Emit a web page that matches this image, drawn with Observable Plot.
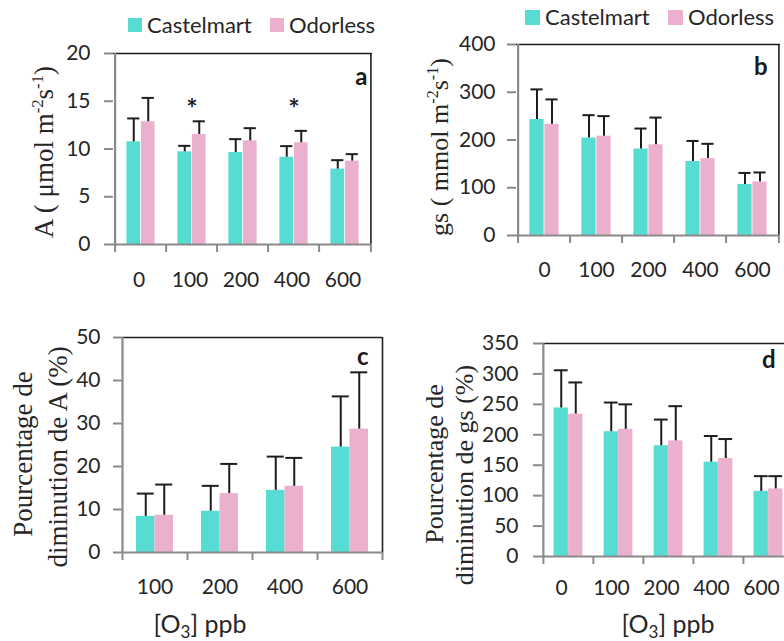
<!DOCTYPE html>
<html>
<head>
<meta charset="utf-8">
<script src="https://cdn.jsdelivr.net/npm/d3@7"></script>
<script src="https://cdn.jsdelivr.net/npm/@observablehq/plot@0.6"></script>
<style>
  html, body { margin: 0; padding: 0; background: #fff; }
  #fig { position: relative; width: 784px; height: 641px; overflow: hidden; font-family: Lato, sans-serif; color: #262626; }
  .panel { position: absolute; }
  .leg { position: absolute; display: flex; align-items: center; height: 28px; line-height: 28px; font-size: 22px; white-space: nowrap; }
  .sw { display: inline-block; margin-right: 5px; }
</style>
</head>
<body>
<div id="fig"></div>
<script>
// ---------- data ----------
const series = ["Castelmart", "Odorless"];
const colors = ["#56dcd3", "#ecb0cf"];

const concAll = ["0", "100", "200", "400", "600"];
const concDim = ["100", "200", "400", "600"];

// (a) net photosynthesis A (µmol m-2 s-1)
const aCast    = [10.75, 9.70, 9.63, 9.14, 7.90];
const aCastErr = [2.45, 0.63, 1.40, 1.16, 0.93];
const aOdor    = [12.85, 11.52, 10.85, 10.65, 8.73];
const aOdorErr = [2.50, 1.38, 1.33, 1.25, 0.73];
const aStarConc = ["100", "400"];
const aStarY = [14.8, 14.8];

// (b) stomatal conductance gs (mmol m-2 s-1)
const gsCast    = [243, 204, 181, 155, 107];
const gsCastErr = [63, 48, 43, 43, 24];
const gsOdor    = [233, 208, 190, 161, 112];
const gsOdorErr = [52, 42, 57, 31, 20];

// (c) % decrease of A
const cCast    = [8.4, 9.6, 14.45, 24.5];
const cCastErr = [5.3, 5.9, 7.85, 11.8];
const cOdor    = [8.65, 13.7, 15.4, 28.7];
const cOdorErr = [7.15, 6.9, 6.6, 13.2];

// (d) % decrease of gs
const dCast    = [244, 205, 182, 155, 107];
const dCastErr = [62, 48, 43, 43, 25];
const dOdor    = [234, 209, 190, 161, 111];
const dOdorErr = [52, 41, 57, 32, 21];

const yTicksA = [0, 5, 10, 15, 20];
const yTicksB = [0, 100, 200, 300, 400];
const yTicksC = [0, 10, 20, 30, 40, 50];
const yTicksD = [0, 50, 100, 150, 200, 250, 300, 350];

// ---------- helpers ----------
const GREY = "#8a8a8a";
const DARK = "#1e1e1e";
const fig = document.getElementById("fig");

function makePanel(o) {
  const rows = (vals, errs, s) => o.cats.map((c, i) => ({cat: c, s, v: vals[i], e: errs[i]}));
  const cast = rows(o.cast, o.castErr, series[0]);
  const odor = rows(o.odor, o.odorErr, series[1]);
  const pw = o.width - o.ml - o.mr;
  const ph = o.height - o.mt - o.mb;
  const bw = pw / o.cats.length;
  const outer = bw / 2 - o.barW;
  const capIn = bw / 2 - o.capW / 2;
  const yMax = o.yTicks[o.yTicks.length - 1];
  const last = [o.cats[o.cats.length - 1]];

  const marks = [
    Plot.barY(cast, {x: "cat", y: "v", fill: colors[0], insetLeft: outer, insetRight: bw / 2}),
    Plot.barY(odor, {x: "cat", y: "v", fill: colors[1], insetLeft: bw / 2, insetRight: outer}),
    Plot.ruleX(cast, {x: "cat", y1: "v", y2: d => d.v + d.e, dx: -o.barW / 2, stroke: DARK, strokeWidth: 2}),
    Plot.ruleX(odor, {x: "cat", y1: "v", y2: d => d.v + d.e, dx: o.barW / 2, stroke: DARK, strokeWidth: 2}),
    Plot.tickY(cast, {x: "cat", y: d => d.v + d.e, dx: -o.barW / 2, insetLeft: capIn, insetRight: capIn, stroke: DARK, strokeWidth: 2}),
    Plot.tickY(odor, {x: "cat", y: d => d.v + d.e, dx: o.barW / 2, insetLeft: capIn, insetRight: capIn, stroke: DARK, strokeWidth: 2}),
    // frame: top & right black, left & bottom grey
    Plot.ruleY([yMax], {stroke: DARK, strokeWidth: 1.6}),
    Plot.ruleX(last, {x: d => d, dx: bw / 2, stroke: DARK, strokeWidth: 1.6}),
    Plot.ruleY([0], {stroke: GREY, strokeWidth: 2.2}),
    Plot.ruleX([o.cats[0]], {x: d => d, dx: -bw / 2, stroke: GREY, strokeWidth: 2.2}),
    // category boundary ticks below the x axis
    Plot.ruleX(o.cats, {x: d => d, dx: -bw / 2, insetTop: ph, insetBottom: -8, stroke: GREY, strokeWidth: 2}),
    Plot.ruleX(last, {x: d => d, dx: bw / 2, insetTop: ph, insetBottom: -8, stroke: GREY, strokeWidth: 2}),
    Plot.axisY({ticks: o.yTicks, tickSize: 9, tickPadding: o.yPad, stroke: GREY, strokeWidth: 2, fill: "#262626", label: null}),
    Plot.axisX({tickSize: 0, tickPadding: o.xPad, dx: o.xDx || 0, fill: "#262626", label: null}),
    Plot.text([o.letter], {frameAnchor: "top-right", text: d => d, textAnchor: "end", lineAnchor: "top",
      dx: o.letterDx, dy: o.letterDy, fontWeight: "bold", fontSize: 24, fill: "#1a1a1a"})
  ];
  if (o.stars) {
    marks.push(Plot.text(o.stars, {x: "cat", y: "y", text: () => "*", fontSize: 27, dy: 6, fill: "#262626", fontWeight: "bold"}));
  }

  const svg = Plot.plot({
    width: o.width, height: o.height,
    marginLeft: o.ml, marginRight: o.mr, marginTop: o.mt, marginBottom: o.mb,
    x: {type: "band", domain: o.cats, padding: 0, axis: null},
    y: {domain: [0, yMax], axis: null},
    style: {fontFamily: "Lato, sans-serif", fontSize: "21px", background: "transparent", overflow: "visible", color: "#262626"},
    marks
  });
  svg.classList.add("panel");
  svg.style.left = o.left + "px";
  svg.style.top = o.top + "px";
  svg.style.position = "absolute";

  const sel = d3.select(svg);
  // y title(s), rotated, serif with superscripts
  o.ylabels.forEach(lab => {
    const t = sel.append("text")
      .attr("transform", `translate(${lab.x},${lab.y}) rotate(-90)`)
      .attr("text-anchor", "middle")
      .attr("font-family", "'Liberation Serif', 'Times New Roman', serif")
      .attr("font-size", lab.size)
      .attr("fill", "#262626");
    let shift = 0;
    lab.parts.forEach(p => {
      const sup = typeof p !== "string";
      const txt = sup ? p.sup : p;
      const target = sup ? -lab.size * 0.38 : 0;
      t.append("tspan")
        .attr("dy", target - shift)
        .attr("font-size", sup ? lab.size * 0.62 : lab.size)
        .text(txt);
      shift = target;
    });
  });
  if (o.xtitle) {
    const t = sel.append("text")
      .attr("x", o.xtitle.x).attr("y", o.xtitle.y)
      .attr("text-anchor", "middle")
      .attr("font-family", "Lato, sans-serif")
      .attr("font-size", 25)
      .attr("fill", "#262626");
    t.append("tspan").text("[O");
    t.append("tspan").attr("dy", 5).attr("font-size", 17).text("3");
    t.append("tspan").attr("dy", -5).text("] ppb");
  }
  fig.appendChild(svg);
}

function legend(x1, x2, yc, sq) {
  [x1, x2].forEach((x, i) => {
    const d = document.createElement("div");
    d.className = "leg";
    d.style.left = x + "px";
    d.style.top = (yc - 14) + "px";
    const s = document.createElement("span");
    s.className = "sw";
    s.style.width = sq + "px"; s.style.height = sq + "px";
    s.style.background = colors[i];
    d.appendChild(s);
    d.appendChild(document.createTextNode(series[i]));
    fig.appendChild(d);
  });
}

// ---------- panels ----------
makePanel({
  left: 0, top: 0, width: 390, height: 300, ml: 113, mr: 18, mt: 53, mb: 56,
  cats: concAll, cast: aCast, castErr: aCastErr, odor: aOdor, odorErr: aOdorErr,
  yTicks: yTicksA, barW: 14.5, capW: 13, yPad: 14, xPad: 28, xDx: -2,
  letter: "a", letterDx: -5, letterDy: 14,
  stars: aStarConc.map((c, i) => ({cat: c, y: aStarY[i]})),
  ylabels: [{x: 53, y: 152, size: 27, parts: ["A ( μmol m", {sup: "-2"}, "s", {sup: "-1"}, ")"]}]
});

makePanel({
  left: 390, top: 0, width: 394, height: 300, ml: 126, mr: 4, mt: 44, mb: 65,
  cats: concAll, cast: gsCast, castErr: gsCastErr, odor: gsOdor, odorErr: gsOdorErr,
  yTicks: yTicksB, barW: 15, capW: 13, yPad: 12, xPad: 27,
  letter: "b", letterDx: -13, letterDy: 13,
  ylabels: [{x: 58, y: 147, size: 26, parts: ["gs ( mmol m", {sup: "-2"}, "s", {sup: "-1"}, ")"]}]
});

makePanel({
  left: 0, top: 320, width: 390, height: 321, ml: 122, mr: 8, mt: 17, mb: 89,
  cats: concDim, cast: cCast, castErr: cCastErr, odor: cOdor, odorErr: cOdorErr,
  yTicks: yTicksC, barW: 18.5, capW: 17, yPad: 13, xPad: 27,
  letter: "c", letterDx: -14, letterDy: 10,
  ylabels: [
    {x: 32, y: 134, size: 27, parts: ["Pourcentage de"]},
    {x: 67, y: 137, size: 27, parts: ["diminution de A (%)"]}
  ],
  xtitle: {x: 200, y: 313}
});

makePanel({
  left: 390, top: 320, width: 420, height: 321, ml: 152, mr: 17, mt: 23, mb: 85,
  cats: concAll, cast: dCast, castErr: dCastErr, odor: dOdor, odorErr: dOdorErr,
  yTicks: yTicksD, barW: 14.5, capW: 14, yPad: 15, xPad: 24, xDx: -7,
  letter: "d", letterDx: -18, letterDy: 7,
  ylabels: [
    {x: 53, y: 144, size: 26, parts: ["Pourcentage de"]},
    {x: 83, y: 155, size: 26, parts: ["diminution de gs (%)"]}
  ],
  xtitle: {x: 278, y: 313}
});

legend(128, 270, 25, 14);
legend(525, 668, 17, 15);
</script>
</body>
</html>
